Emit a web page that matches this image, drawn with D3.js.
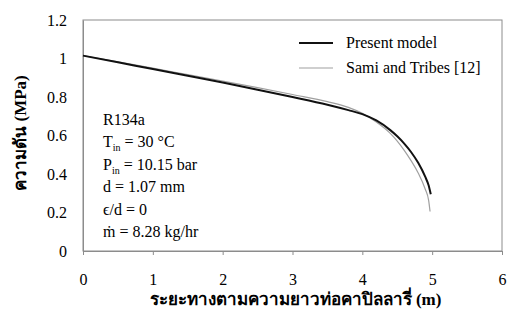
<!DOCTYPE html>
<html>
<head>
<meta charset="utf-8">
<script src="https://cdn.jsdelivr.net/npm/d3@7"></script>
<style>
  body { margin: 0; background: #fff; }
  #chart text { font-family: "Liberation Serif", "Times New Roman", Times, "DejaVu Serif", serif !important; fill: #000; }
</style>
</head>
<body>
<svg id="chart" width="508" height="320"></svg>
<script>
// data
const modelX = [0, 0.5, 1, 1.5, 2, 2.5, 3, 3.5, 3.8, 4.0, 4.2, 4.4, 4.5, 4.6, 4.7, 4.8, 4.9, 4.95, 4.98];
const modelP = [1.015, 0.98, 0.945, 0.91, 0.875, 0.838, 0.80, 0.76, 0.732, 0.711, 0.678, 0.628, 0.596, 0.558, 0.513, 0.458, 0.386, 0.34, 0.295];
const samiX = [0, 0.5, 1, 1.5, 2, 2.5, 3, 3.5, 3.8, 4.0, 4.2, 4.4, 4.5, 4.6, 4.7, 4.8, 4.9, 4.95, 4.97];
const samiP = [1.015, 0.982, 0.95, 0.916, 0.883, 0.849, 0.813, 0.776, 0.746, 0.715, 0.67, 0.611, 0.571, 0.523, 0.468, 0.405, 0.322, 0.262, 0.205];
const xTicks = [0, 1, 2, 3, 4, 5, 6];
const yTicks = [0, 0.2, 0.4, 0.6, 0.8, 1, 1.2];
const seriesNames = ["Present model", "Sami and Tribes [12]"];
// [main text, subscript, rest]
const notes = [
  ["R134a", "", ""],
  ["T", "in", " = 30 \u00B0C"],
  ["P", "in", " = 10.15 bar"],
  ["d = 1.07 mm", "", ""],
  ["\u03F5/d = 0", "", ""],
  ["m\u0307 = 8.28 kg/hr", "", ""]
];

const svg = d3.select("#chart");
const margin = { top: 20, right: 6, bottom: 69, left: 83 };
const width = 508 - margin.left - margin.right;
const height = 320 - margin.top - margin.bottom;

const g = svg.append("g").attr("transform", `translate(${margin.left},${margin.top})`);

const x = d3.scaleLinear().domain([0, 6]).range([0, width]);
const y = d3.scaleLinear().domain([0, 1.2]).range([height, 0]);

// frame
g.append("rect")
  .attr("width", width).attr("height", height)
  .attr("fill", "none").attr("stroke", "#8c8c8c").attr("stroke-width", 1);

// x axis
const xAxis = g.append("g")
  .attr("transform", `translate(0,${height})`)
  .call(d3.axisBottom(x).tickValues(xTicks).tickFormat(d3.format("d")).tickSize(4).tickPadding(19));
xAxis.attr("font-family", null);
xAxis.select(".domain").attr("stroke", "#8c8c8c");
xAxis.selectAll(".tick line").attr("stroke", "#8c8c8c");
xAxis.selectAll("text").style("font-size", "16px");

// y axis
const yAxis = g.append("g")
  .call(d3.axisLeft(y).tickValues(yTicks).tickFormat(d => d3.format("~g")(d)).tickSize(0).tickPadding(16));
yAxis.attr("font-family", null);
yAxis.select(".domain").attr("stroke", "#8c8c8c");
yAxis.selectAll("text").style("font-size", "16px");

// lines
const line = d3.line().curve(d3.curveMonotoneX);
const modelPts = modelX.map((v, i) => [x(v), y(modelP[i])]);
const samiPts = samiX.map((v, i) => [x(v), y(samiP[i])]);

g.append("path")
  .attr("d", line(samiPts))
  .attr("fill", "none").attr("stroke", "#a0a0a0").attr("stroke-width", 1.2);
g.append("path")
  .attr("d", line(modelPts))
  .attr("fill", "none").attr("stroke", "#111").attr("stroke-width", 2);

// legend
const legendStyles = [{ stroke: "#111", w: 2 }, { stroke: "#a0a0a0", w: 1.2 }];
const legend = g.selectAll(".legend")
  .data(seriesNames)
  .enter().append("g")
  .attr("class", "legend")
  .attr("transform", (d, i) => `translate(216,${23 + i * 25})`);

legend.append("line")
  .attr("x1", 0).attr("x2", 34)
  .attr("stroke", (d, i) => legendStyles[i].stroke)
  .attr("stroke-width", (d, i) => legendStyles[i].w);

legend.append("text")
  .attr("x", 47).attr("y", 5)
  .style("font-size", "16px")
  .text(d => d);

// annotation block
const noteText = g.selectAll(".note")
  .data(notes)
  .enter().append("text")
  .attr("class", "note")
  .attr("x", 20)
  .attr("y", (d, i) => 105 + i * 22.4)
  .style("font-size", "16px");

noteText.append("tspan").text(d => d[0]);
noteText.filter(d => d[1]).append("tspan")
  .attr("dy", 4).style("font-size", "10px").text(d => d[1]);
noteText.filter(d => d[1]).append("tspan")
  .attr("dy", -4).text(d => d[2]);

// axis labels
svg.append("text")
  .attr("x", margin.left + width / 2 + 3)
  .attr("y", 305)
  .attr("text-anchor", "middle")
  .style("font-size", "17px")
  .style("font-weight", "bold")
  .text("ระยะทางตามความยาวท่อคาปิลลารี่ (m)");

svg.append("text")
  .attr("transform", "translate(26,133) rotate(-90)")
  .attr("text-anchor", "middle")
  .style("font-size", "17px")
  .style("font-weight", "bold")
  .text("ความดัน (MPa)");
</script>
</body>
</html>
